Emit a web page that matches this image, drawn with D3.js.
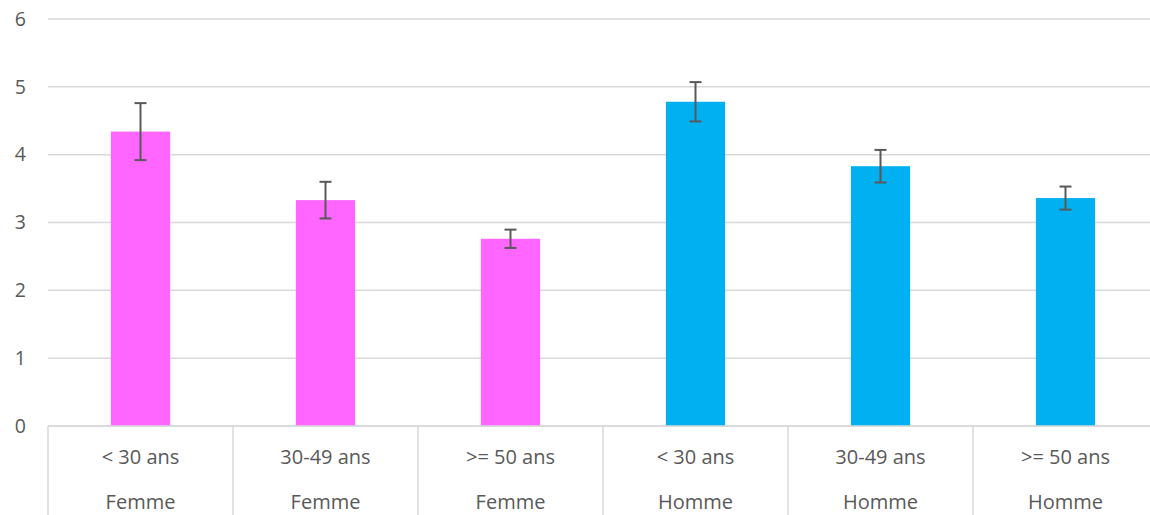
<!DOCTYPE html>
<html><head><meta charset="utf-8">
<script src="https://cdn.jsdelivr.net/npm/d3@7"></script>
<style>body{margin:0;background:#fff}svg{display:block}text{font-family:"Open Sans",sans-serif;fill:#595959}</style>
</head><body><svg id="c" width="1150" height="515"></svg>
<script>
const ageGroups = ["< 30 ans","30-49 ans",">= 50 ans","< 30 ans","30-49 ans",">= 50 ans"];
const sexes = ["Femme","Femme","Femme","Homme","Homme","Homme"];
const values = [4.34, 3.33, 2.76, 4.78, 3.83, 3.36];
const errors = [0.42, 0.27, 0.135, 0.29, 0.24, 0.17];
const yTicks = [0,1,2,3,4,5,6];
const colorsBySex = {"Femme":"#FF66FF","Homme":"#00B0F0"};

(function(){
const svg = d3.select("#c");
const pL = 48, pR = 1158, pT = 19, pB = 426;
const idx = d3.range(values.length);
const x = d3.scaleBand().domain(idx).range([pL,pR]).paddingInner(0).paddingOuter(0);
const y = d3.scaleLinear().domain([0,6]).range([pB,pT]);
const barW = x.bandwidth()*0.32;

svg.append("g").selectAll("line").data(yTicks).join("line")
  .attr("x1",pL).attr("x2",1150).attr("y1",d=>y(d)).attr("y2",d=>y(d))
  .attr("stroke","#D9D9D9").attr("stroke-width",1.5);
svg.append("g").selectAll("text").data(yTicks).join("text")
  .attr("x",26).attr("y",d=>y(d)).attr("dy","0.35em").attr("text-anchor","end")
  .attr("font-size",19.5).text(d=>d);
svg.append("g").selectAll("rect").data(idx).join("rect")
  .attr("x",i=>x(i)+x.bandwidth()/2-barW/2).attr("width",barW)
  .attr("y",i=>y(values[i])).attr("height",i=>y(0)-y(values[i]))
  .attr("fill",i=>colorsBySex[sexes[i]]);
const eg = svg.append("g").attr("stroke","#595959").attr("stroke-width",2);
idx.forEach(i=>{
  const cx = x(i)+x.bandwidth()/2;
  eg.append("line").attr("x1",cx).attr("x2",cx).attr("y1",y(values[i]+errors[i])).attr("y2",y(values[i]-errors[i]));
  eg.append("line").attr("x1",cx-6).attr("x2",cx+6).attr("y1",y(values[i]+errors[i])).attr("y2",y(values[i]+errors[i]));
  eg.append("line").attr("x1",cx-6).attr("x2",cx+6).attr("y1",y(values[i]-errors[i])).attr("y2",y(values[i]-errors[i]));
});
svg.append("line").attr("x1",pL).attr("x2",1150).attr("y1",pB).attr("y2",pB).attr("stroke","#D9D9D9").attr("stroke-width",1.5);
svg.append("g").selectAll("line").data(idx.concat([idx.length])).join("line")
  .attr("x1",i=>i<idx.length?x(i):pR).attr("x2",i=>i<idx.length?x(i):pR)
  .attr("y1",pB).attr("y2",515).attr("stroke","#D9D9D9").attr("stroke-width",1.5);
svg.append("g").selectAll("text").data(idx).join("text")
  .attr("x",i=>x(i)+x.bandwidth()/2).attr("y",457).attr("dy","0.35em").attr("text-anchor","middle")
  .attr("font-size",20).text(i=>ageGroups[i]);
svg.append("g").selectAll("text").data(idx).join("text")
  .attr("x",i=>x(i)+x.bandwidth()/2).attr("y",502).attr("dy","0.35em").attr("text-anchor","middle")
  .attr("font-size",20).text(i=>sexes[i]);
})();
</script></body></html>
